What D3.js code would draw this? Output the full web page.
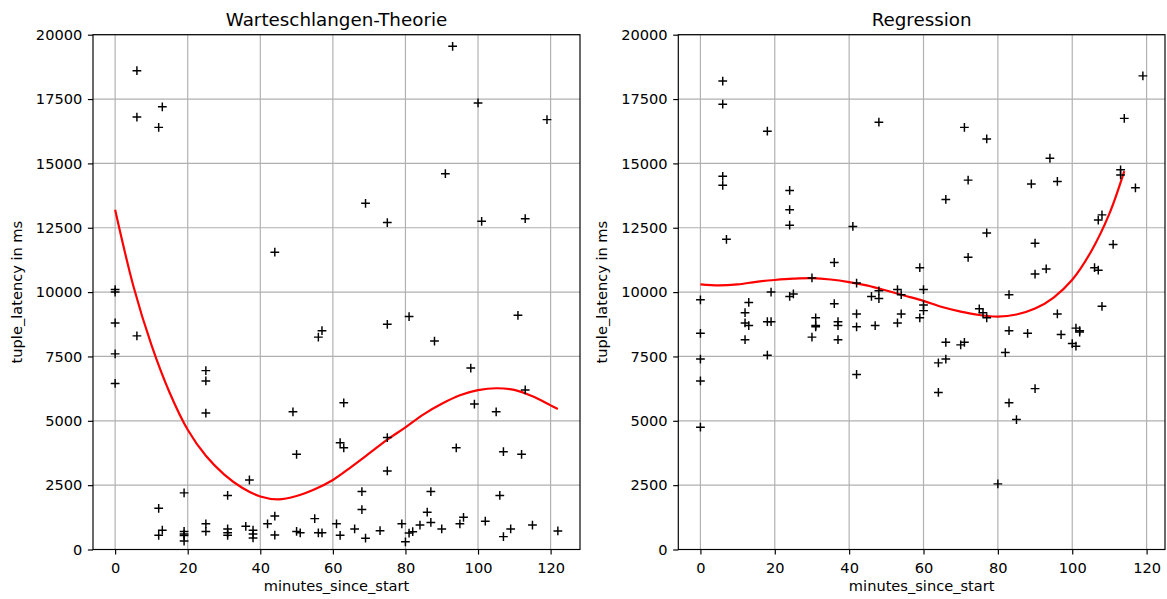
<!DOCTYPE html>
<html>
<head>
<meta charset="utf-8">
<script src="https://cdn.jsdelivr.net/npm/d3@7"></script>
<style>
  body { margin: 0; background: #fff; }
  svg text { font-family: "DejaVu Sans", sans-serif; fill: #000; }
</style>
</head>
<body>
<svg id="chart" width="1167" height="599"></svg>
<script>
// ---- data ----
var xTicks = [0, 20, 40, 60, 80, 100, 120];
var yTicks = [0, 2500, 5000, 7500, 10000, 12500, 15000, 17500, 20000];

var queueTitle = "Warteschlangen-Theorie";
var queueMinutes = [0,0,0,0,0, 6,6,6, 12,12,12, 13,13, 19,19,19,19,19, 25,25,25,25,25,
    31,31,31,31, 36, 37, 38,38,38, 42, 44,44,44, 49, 50,50, 51, 55, 56,56, 57,57, 61,
    62,62, 63,63, 66, 68,68, 69,69, 73, 75,75,75,75, 79, 80, 81,81, 82, 84, 86, 87,87,
    88, 90, 91, 93, 94, 95, 96, 98, 99, 100, 101, 102, 105, 106, 107,107, 109, 111, 112,
    113,113, 115, 119, 122];
var queueLatency = [10100,10000,8800,7600,6450, 18600,16800,8300, 16400,1600,550, 17200,750,
    2200,700,600,540,330, 6950,6550,5300,1000,700,
    2100,800,650,550, 900, 2700, 750,600,450, 1000, 11550,1300,560, 5350, 3700,700, 650, 1200,
    8250,650, 8500,650, 1000,
    4150,550, 5700,3950, 800, 2250,1550, 13450,440, 730, 12700,8750,4350,3050, 1000, 300,
    9050,640, 690, 950, 1450, 2250,1050,
    8100, 800, 14600, 19550, 3950, 1000, 1250, 7050, 5650, 17350, 12750, 1100, 5350, 2100,
    3800,500, 800, 9100, 3700,
    12850,6200, 950, 16700, 720];
var queueFitMinutes = [0,5,10,15,20,25,30,35,40,45,50,55,60,65,70,75,80,85,90,95,100,105,110,115,120,122];
var queueFitLatency = [13200,10250,7950,6100,4650,3640,2920,2400,2060,1950,2080,2340,2700,3200,
    3730,4270,4745,5250,5660,5990,6190,6265,6200,5950,5600,5460];

var regTitle = "Regression";
var regMinutes = [0,0,0,0,0, 6,6,6,6, 7, 12,12,12, 13,13, 18,18,18, 19,19, 24,24,24,24, 25,
    30,30, 31,31,31, 36,36, 37,37,37, 41, 42,42,42,42, 46, 47, 48,48,48, 53,53, 54,54,
    59,59, 60,60,60, 64,64, 66,66,66, 70, 71,71, 72,72, 75, 76, 77,77,77, 80, 82, 83,83,83,
    85, 88, 89, 90,90,90, 93, 94, 96,96, 97, 100, 101,101, 102,102, 106, 107,107, 108,108,
    111, 113,113, 114, 117, 119];
var regLatency = [9700,8400,7400,6550,4750, 18200,17300,14500,14150, 12050, 9200,8800,8150,
    9600,8700, 16250,8850,7550, 10000,8850, 13950,13200,12600,9830, 9930,
    10550,8250, 9000,8700,8650, 11150,9550, 8850,8700,8150, 12550, 10350,9150,8650,6800,
    9830, 8700, 16600,10050,9750, 10100,8800, 9900,9150,
    10950,9000, 10100,9500,9280, 7250,6100, 13600,8050,7400, 7950, 16400,8050, 14350,11350,
    9350, 9200, 15950,12300,9000, 2550, 7650, 9900,8500,5700,
    5050, 8400, 14200, 11900,10700,6250, 10900, 15200, 14300,9150, 8350, 8000, 8600,7900,
    8500,8450, 10950, 12800,10850, 13000,9450,
    11850, 14750,14550, 16750, 14050, 18400];
var regFitMinutes = [0,5,10,15,20,25,30,35,40,45,50,55,60,65,70,75,80,85,90,95,100,105,110,114];
var regFitLatency = [10300,10260,10300,10400,10470,10520,10540,10490,10390,10250,10060,9860,
    9660,9420,9240,9110,9050,9130,9360,9790,10480,11560,13050,14700];

// ---- drawing ----
var svg = d3.select("#chart");
var pt = 1.46;               // px per point
var tickFont = 14.6, titleFont = 18.3;

function drawPanel(box, title, minutes, latency, fitMinutes, fitLatency) {
    var ext = d3.extent(minutes), pad = (ext[1] - ext[0]) * 0.05;

    var x = d3.scaleLinear()
        .domain([ext[0] - pad, ext[1] + pad])
        .range([box.left, box.right]);
    var y = d3.scaleLinear()
        .domain([0, 20000])
        .range([box.bottom, box.top]);

    var g = svg.append("g");

    // grid
    g.append("g").selectAll("line.gx")
        .data(xTicks).enter().append("line")
        .attr("x1", function(d) { return x(d); }).attr("x2", function(d) { return x(d); })
        .attr("y1", box.top).attr("y2", box.bottom)
        .attr("stroke", "#b0b0b0").attr("stroke-width", 0.8 * pt);
    g.append("g").selectAll("line.gy")
        .data(yTicks).enter().append("line")
        .attr("y1", function(d) { return y(d); }).attr("y2", function(d) { return y(d); })
        .attr("x1", box.left).attr("x2", box.right)
        .attr("stroke", "#b0b0b0").attr("stroke-width", 0.8 * pt);

    // fitted curve
    var line = d3.line()
        .x(function(d, i) { return x(fitMinutes[i]); })
        .y(function(d) { return y(d); })
        .curve(d3.curveCatmullRom.alpha(0.5));
    g.append("path")
        .attr("d", line(fitLatency))
        .attr("fill", "none")
        .attr("stroke", "#ff0000")
        .attr("stroke-width", 1.5 * pt);

    // markers
    var m = 3 * pt;
    g.append("g").selectAll("path")
        .data(latency).enter().append("path")
        .attr("transform", function(d, i) { return "translate(" + x(minutes[i]) + "," + y(d) + ")"; })
        .attr("d", "M" + (-m) + ",0H" + m + "M0," + (-m) + "V" + m)
        .attr("stroke", "#000")
        .attr("stroke-width", 1 * pt)
        .attr("fill", "none");

    // axes
    var xAxis = g.append("g")
        .attr("transform", "translate(0," + box.bottom + ")")
        .call(d3.axisBottom(x).tickValues(xTicks).tickSize(3.5 * pt).tickPadding(7.7));
    var yAxis = g.append("g")
        .attr("transform", "translate(" + box.left + ",0)")
        .call(d3.axisLeft(y).tickValues(yTicks).tickFormat(d3.format("d")).tickSize(3.5 * pt).tickPadding(5.6));
    [xAxis, yAxis].forEach(function(a) {
        a.select(".domain").remove();
        a.selectAll("line").attr("stroke", "#000").attr("stroke-width", 0.8 * pt);
        a.selectAll("text").style("font-size", tickFont + "px").attr("fill", "#000");
        a.attr("font-family", null).attr("font-size", null);
    });

    // frame
    g.append("rect")
        .attr("x", box.left).attr("y", box.top)
        .attr("width", box.right - box.left).attr("height", box.bottom - box.top)
        .attr("fill", "none").attr("stroke", "#000").attr("stroke-width", 0.8 * pt);

    // labels
    var cx = (box.left + box.right) / 2, cy = (box.top + box.bottom) / 2;
    g.append("text")
        .attr("x", cx).attr("y", 26)
        .attr("text-anchor", "middle")
        .style("font-size", titleFont + "px")
        .text(title);
    g.append("text")
        .attr("x", cx).attr("y", 591)
        .attr("text-anchor", "middle")
        .style("font-size", tickFont + "px")
        .text("minutes_since_start");
    g.append("text")
        .attr("transform", "translate(" + box.ylab + "," + cy + ") rotate(-90)")
        .attr("text-anchor", "middle")
        .style("font-size", tickFont + "px")
        .text("tuple_latency in ms");
}

drawPanel({left: 93, right: 580, top: 34.7, bottom: 549.5, ylab: 22},
    queueTitle, queueMinutes, queueLatency, queueFitMinutes, queueFitLatency);
drawPanel({left: 678.3, right: 1165, top: 34.7, bottom: 549.5, ylab: 607},
    regTitle, regMinutes, regLatency, regFitMinutes, regFitLatency);
</script>
</body>
</html>
